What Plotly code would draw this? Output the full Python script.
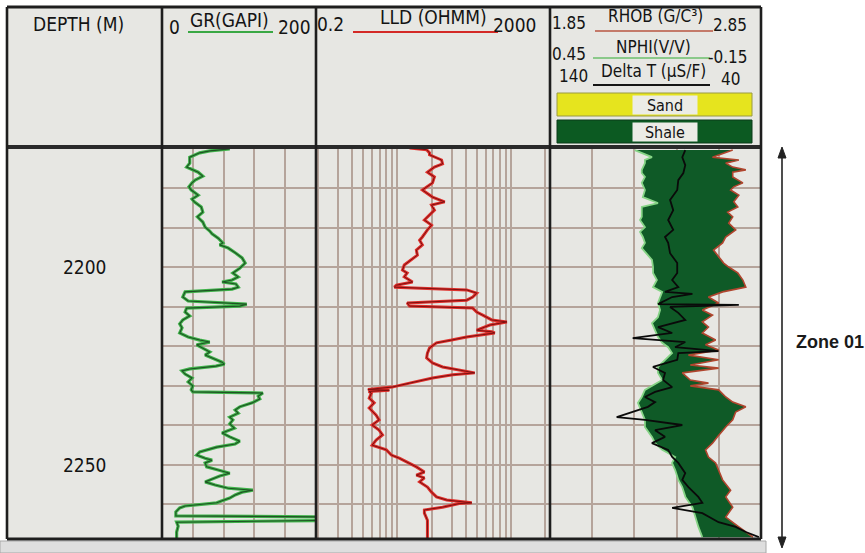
import math
import plotly.graph_objects as go

gr_depth = [2170.1, 2170.6, 2171.1, 2172.2, 2173.7, 2174.7, 2176.0, 2177.0, 2178.0, 2178.7,
            2179.7, 2180.5, 2181.8, 2182.8, 2183.5, 2184.8, 2186.1, 2187.3, 2188.6, 2189.9,
            2190.9, 2191.6, 2192.7, 2193.9, 2194.4, 2195.2, 2196.5, 2197.7, 2199.0, 2200.3,
            2201.5, 2202.5, 2203.3, 2203.8, 2204.3, 2205.1, 2205.6, 2206.3, 2207.6, 2208.6,
            2209.4, 2209.9, 2210.4, 2211.4, 2212.4, 2213.4, 2214.4, 2215.4, 2216.7, 2217.7,
            2218.5, 2219.0, 2219.7, 2220.5, 2221.5, 2222.3, 2223.0, 2224.1, 2224.6, 2225.1,
            2225.8, 2226.3, 2227.1, 2228.1, 2229.1, 2230.1, 2231.1, 2231.6, 2231.9, 2232.7,
            2233.4, 2234.4, 2235.4, 2236.2, 2237.0, 2238.0, 2238.7, 2239.7, 2240.8, 2242.0,
            2243.0, 2244.1, 2244.8, 2245.6, 2246.8, 2247.6, 2248.4, 2248.9, 2249.6, 2250.6,
            2251.4, 2252.2, 2252.9, 2253.4, 2254.4, 2255.2, 2256.0, 2256.5, 2257.0, 2257.7,
            2258.5, 2259.2, 2259.7, 2260.5, 2261.0, 2262.0, 2263.0, 2263.3, 2264.1, 2264.6,
            2265.6, 2267.1, 2268.9]
gr_api = [88, 62, 49, 36, 36, 32, 47, 53, 43, 39,
          35, 38, 47, 39, 42, 51, 53, 46, 53, 56,
          62, 65, 73, 79, 75, 86, 96, 104, 108, 101,
          92, 99, 91, 78, 96, 99, 91, 30, 27, 34,
          110, 101, 32, 30, 36, 27, 23, 26, 23, 34,
          49, 62, 45, 53, 62, 56, 65, 78, 81, 70,
          36, 26, 30, 39, 34, 40, 38, 40, 131, 125,
          127, 117, 101, 95, 99, 88, 92, 88, 94, 78,
          88, 101, 95, 71, 49, 45, 56, 65, 56, 58,
          73, 88, 75, 69, 56, 69, 86, 118, 104, 95,
          88, 78, 71, 30, 23, 18, 18, 240, 240, 19,
          21, 19, 19]

lld_depth = [2169.9, 2170.3, 2171.1, 2171.6, 2172.9, 2173.9, 2174.7, 2176.0, 2177.2, 2178.7,
             2180.5, 2181.3, 2182.3, 2183.5, 2184.3, 2185.6, 2187.3, 2188.1, 2189.4, 2190.6,
             2192.4, 2193.2, 2194.4, 2195.7, 2197.0, 2198.2, 2199.5, 2200.8, 2201.5, 2202.5,
             2203.8, 2204.6, 2205.1, 2205.8, 2206.6, 2207.6, 2208.4, 2209.1, 2209.9, 2210.4,
             2211.4, 2212.2, 2213.4, 2213.9, 2214.7, 2216.0, 2216.4, 2216.7, 2217.7, 2218.5,
             2219.2, 2220.5, 2221.8, 2223.0, 2224.3, 2225.3, 2226.1, 2226.8, 2227.3, 2228.1,
             2229.4, 2230.4, 2231.0, 2231.2, 2231.5, 2231.9, 2233.2, 2234.4, 2235.7, 2237.5,
             2238.7, 2240.0, 2241.3, 2242.5, 2243.8, 2245.1, 2246.3, 2247.6, 2248.4, 2249.6,
             2250.6, 2251.9, 2252.7, 2253.4, 2254.4, 2255.7, 2257.0, 2258.2, 2259.0, 2259.7,
             2259.9, 2260.8, 2261.5, 2262.3, 2264.1, 2268.9]
lld_ohmm = [12.8, 18.1, 19.2, 19.2, 24.5, 25.0, 21.2, 18.4, 21.2, 20.4,
            16.6, 18.1, 20.4, 26.1, 20.0, 21.2, 18.4, 17.3, 20.0, 18.4,
            16.6, 15.7, 16.6, 14.7, 15.0, 13.3, 11.5, 11.1, 12.2, 11.5,
            13.6, 9.8, 9.4, 40.8, 50.0, 46.1, 40.8, 12.2, 12.8, 46.1,
            50.0, 56.5, 67.9, 92.2, 65.2, 50.0, 67.9, 72.1, 40.8, 30.0,
            22.1, 19.2, 18.4, 18.1, 20.4, 25.0, 35.4, 48.0, 30.7, 20.4,
            12.8, 9.0, 5.5, 8.5, 5.6, 5.9, 5.65, 6.25, 5.65, 6.5,
            6.9, 6.0, 6.9, 7.4, 6.5, 6.0, 8.0, 8.85, 10.4, 12.8,
            14.7, 17.3, 14.7, 17.3, 15.7, 18.4, 20.0, 22.1, 27.2, 45.2,
            35.0, 25.0, 17.3, 17.3, 18.4, 18.4]

rhob_depth = [2170.4, 2172.2, 2172.9, 2173.7, 2174.7, 2175.4, 2176.0, 2177.2, 2178.7, 2179.7,
              2180.5, 2181.8, 2183.5, 2184.8, 2186.1, 2187.3, 2188.9, 2190.6, 2192.4, 2193.9,
              2195.7, 2197.5, 2199.0, 2200.0, 2201.5, 2203.3, 2205.1, 2206.3, 2207.6, 2209.1,
              2210.9, 2212.2, 2213.9, 2215.2, 2216.7, 2218.5, 2219.7, 2221.0, 2222.3, 2223.5,
              2224.8, 2225.6, 2226.8, 2228.6, 2229.4, 2230.1, 2231.1, 2232.9, 2234.2, 2235.4,
              2236.7, 2238.7, 2240.5, 2243.0, 2244.6, 2246.3, 2248.1, 2249.6, 2251.4, 2253.9,
              2256.5, 2258.2, 2260.8, 2263.3, 2265.8, 2268.4]
rhob_gcc = [2.716, 2.62, 2.745, 2.683, 2.716, 2.778, 2.716, 2.716, 2.764, 2.721,
            2.706, 2.745, 2.721, 2.74, 2.692, 2.716, 2.697, 2.73, 2.683, 2.668,
            2.625, 2.649, 2.673, 2.697, 2.74, 2.764, 2.778, 2.668, 2.601, 2.649,
            2.572, 2.62, 2.572, 2.601, 2.572, 2.635, 2.587, 2.649, 2.506, 2.649,
            2.515, 2.649, 2.477, 2.515, 2.601, 2.515, 2.649, 2.683, 2.716, 2.778,
            2.73, 2.716, 2.683, 2.644, 2.62, 2.587, 2.601, 2.635, 2.649, 2.668,
            2.706, 2.683, 2.716, 2.683, 2.745, 2.812]

nphi_depth = [2170.4, 2171.1, 2172.2, 2172.9, 2173.7, 2175.4, 2176.2, 2177.2, 2178.7, 2180.5,
              2182.3, 2183.8, 2184.8, 2187.3, 2188.1, 2189.9, 2191.1, 2192.4, 2193.9, 2195.2,
              2197.0, 2198.2, 2200.0, 2201.5, 2203.3, 2205.1, 2206.3, 2207.6, 2209.1, 2210.9,
              2212.7, 2214.2, 2216.0, 2217.7, 2219.2, 2220.3, 2221.8, 2223.5, 2225.3, 2226.8,
              2228.6, 2231.1, 2232.9, 2234.4, 2236.7, 2238.7, 2240.5, 2243.0, 2244.6, 2246.3,
              2248.1, 2249.6, 2251.4, 2253.9, 2255.7, 2258.2, 2260.8, 2263.3, 2265.8, 2268.4]
nphi_vv = [0.209, 0.189, 0.160, 0.180, 0.180, 0.189, 0.189, 0.180, 0.189, 0.180,
           0.186, 0.143, 0.189, 0.189, 0.194, 0.180, 0.194, 0.186, 0.180, 0.189,
           0.172, 0.160, 0.157, 0.157, 0.146, 0.157, 0.131, 0.137, 0.143, 0.137,
           0.143, 0.160, 0.151, 0.143, 0.131, 0.114, 0.103, 0.123, 0.143, 0.143,
           0.131, 0.180, 0.189, 0.200, 0.189, 0.180, 0.180, 0.160, 0.151, 0.131,
           0.094, 0.103, 0.094, 0.085, 0.074, 0.065, 0.045, 0.037, 0.028, 0.017]

dt_depth = [2170.4, 2172.2, 2174.2, 2176.2, 2178.0, 2180.5, 2183.0, 2185.6, 2188.1, 2190.6,
            2192.4, 2193.9, 2196.5, 2199.0, 2201.5, 2203.3, 2205.1, 2206.3, 2206.8, 2207.6,
            2209.4, 2209.6, 2210.1, 2211.6, 2213.4, 2215.2, 2216.7, 2218.0, 2219.0, 2220.3,
            2221.3, 2221.8, 2223.5, 2225.3, 2226.8, 2228.6, 2230.4, 2231.6, 2232.9, 2234.2,
            2235.4, 2238.0, 2238.7, 2240.0, 2241.3, 2243.0, 2244.6, 2246.3, 2248.1, 2249.6,
            2252.2, 2253.9, 2255.7, 2258.2, 2259.7, 2261.0, 2262.3, 2264.6, 2265.8, 2267.1,
            2268.4]
dt_us = [75.9, 77.3, 75.9, 76.8, 79.2, 79.7, 83.1, 81.6, 84.0, 81.6,
         85.5, 84.0, 83.1, 79.7, 79.7, 82.1, 79.2, 85.5, 72.5, 82.1,
         88.8, 50.5, 83.1, 79.2, 75.9, 88.8, 82.1, 100.8, 75.9, 80.7,
         60.1, 79.2, 79.7, 91.2, 85.5, 86.4, 82.1, 90.2, 95.0, 90.2,
         93.6, 108.4, 95.0, 77.3, 90.2, 85.5, 91.7, 84.0, 82.1, 79.2,
         75.9, 77.3, 74.4, 69.7, 67.8, 82.1, 67.8, 60.1, 52.0, 47.2,
         41.0]

# ---------------- track scales, grid and labels ----------------
grid_depths = [2180, 2190, 2200, 2210, 2220, 2230, 2240, 2250, 2260]
depth_labels = [2200, 2250]
gr_grid = [40, 80, 120, 160]
lld_grid = [2, 3, 4, 5, 6, 7, 8, 9, 10, 20, 30, 40, 50, 60, 70, 80, 90, 100, 200]
rhob_grid = [2.05, 2.25, 2.45, 2.65]

DEPTH_TOP, DEPTH_BOTTOM = 2169.87, 2268.86
GR_RANGE = [0, 200]
LLD_RANGE = [1.92, 221.0]
RHOB_RANGE = [1.85, 2.85]
NPHI_RANGE = [0.45, -0.15]
DT_RANGE = [140, 40]

# ---------------- page geometry (pixels) ----------------
W, H = 865, 553


def px(x):
    return x / W


def py(y):
    return 1 - y / H


FRAME_L, FRAME_T = 7, 7
HEAD_B = 147
BODY_T, BODY_B = 148, 539
X_DEPTH, X_GR, X_LLD, X_CMB, X_END = 7, 162, 316, 550, 761

FONT = "Liberation Sans Narrow, Arial Narrow, DejaVu Sans Condensed, Liberation Sans, sans-serif"
TXT = "#141414"
BG = "#e7e7e3"
GRID = "#b5a49b"
FRAME = "#1e1e1e"

fig = go.Figure()

# shale shading between neutron (left) and density (right)
nphi_on_rhob = [RHOB_RANGE[0] + (NPHI_RANGE[0] - v) / (NPHI_RANGE[0] - NPHI_RANGE[1])
                * (RHOB_RANGE[1] - RHOB_RANGE[0]) for v in nphi_vv]
fig.add_trace(go.Scatter(
    x=rhob_gcc + nphi_on_rhob[::-1], y=rhob_depth + nphi_depth[::-1],
    fill="toself", fillcolor="#0f5a27", mode="none", xaxis="x4", yaxis="y4",
    hoverinfo="skip"))
fig.add_trace(go.Scatter(x=nphi_vv, y=nphi_depth, mode="lines", xaxis="x5", yaxis="y4",
                         line=dict(color="#86d486", width=1.8)))
fig.add_trace(go.Scatter(x=rhob_gcc, y=rhob_depth, mode="lines", xaxis="x4", yaxis="y4",
                         line=dict(color="#b0452e", width=1.6)))
fig.add_trace(go.Scatter(x=dt_us, y=dt_depth, mode="lines", xaxis="x6", yaxis="y4",
                         line=dict(color="#0a0a0a", width=1.8)))

# gamma ray
fig.add_trace(go.Scatter(x=gr_api, y=gr_depth, mode="lines", xaxis="x2", yaxis="y2",
                         line=dict(color="#3fb34a", width=3.2)))
fig.add_trace(go.Scatter(x=gr_api, y=gr_depth, mode="lines", xaxis="x2", yaxis="y2",
                         line=dict(color="#1f5224", width=1.1)))

# deep resistivity
fig.add_trace(go.Scatter(x=lld_ohmm, y=lld_depth, mode="lines", xaxis="x3", yaxis="y3",
                         line=dict(color="#e0302c", width=3.0)))
fig.add_trace(go.Scatter(x=lld_ohmm, y=lld_depth, mode="lines", xaxis="x3", yaxis="y3",
                         line=dict(color="#7c1010", width=1.0)))

body_dom = [py(BODY_B), py(BODY_T)]


def yax(grid):
    d = dict(domain=body_dom, range=[DEPTH_BOTTOM, DEPTH_TOP], showticklabels=False,
             ticks="", zeroline=False, showline=False, fixedrange=True)
    if grid:
        d.update(showgrid=True, tickvals=grid_depths, gridcolor=GRID, gridwidth=1.6)
    else:
        d.update(showgrid=False)
    return d


def xax(x0, x1, rng, vals, log=False):
    d = dict(domain=[px(x0), px(x1)], showticklabels=False, ticks="", zeroline=False,
             showline=False, fixedrange=True)
    if log:
        d.update(type="log", range=[math.log10(rng[0]), math.log10(rng[1])])
    else:
        d.update(range=rng)
    if vals:
        d.update(showgrid=True, tickvals=vals, gridcolor=GRID, gridwidth=1.6)
    else:
        d.update(showgrid=False)
    return d


layout_axes = dict(
    xaxis=dict(xax(X_DEPTH, X_GR, [0, 1], None), anchor="y"),
    yaxis=dict(yax(False), anchor="x"),
    xaxis2=dict(xax(X_GR, X_LLD, GR_RANGE, gr_grid), anchor="y2"),
    yaxis2=dict(yax(True), anchor="x2"),
    xaxis3=dict(xax(X_LLD, X_CMB, LLD_RANGE, lld_grid, log=True), anchor="y3"),
    yaxis3=dict(yax(True), anchor="x3"),
    xaxis4=dict(xax(X_CMB, X_END, RHOB_RANGE, rhob_grid), anchor="y4"),
    yaxis4=dict(yax(True), anchor="x4"),
    xaxis5=dict(overlaying="x4", anchor="y4", range=NPHI_RANGE, visible=False),
    xaxis6=dict(overlaying="x4", anchor="y4", range=DT_RANGE, visible=False),
)

shapes = []


def rect(x0, y0, x1, y1, fill, line=None, lw=0, layer="below"):
    shapes.append(dict(type="rect", xref="paper", yref="paper", x0=px(x0), x1=px(x1),
                       y0=py(y1), y1=py(y0), fillcolor=fill, layer=layer,
                       line=dict(color=line or fill, width=lw)))


def seg(x0, y0, x1, y1, color, width, layer="above"):
    shapes.append(dict(type="line", xref="paper", yref="paper", x0=px(x0), x1=px(x1),
                       y0=py(y0), y1=py(y1), layer=layer,
                       line=dict(color=color, width=width)))


# header panel and bottom strip
rect(FRAME_L, FRAME_T, X_END, HEAD_B, BG)
rect(0, 541, 766, 553, "#dedede", "#a8a8a8", 1)

# frame and track separators
seg(FRAME_L, FRAME_T, X_END, FRAME_T, FRAME, 3)
seg(FRAME_L, HEAD_B, X_END, HEAD_B, "#2a2a2a", 4)
seg(FRAME_L, BODY_B, X_END, BODY_B, FRAME, 3)
for xs in (FRAME_L, X_GR, X_LLD, X_CMB, X_END):
    seg(xs, FRAME_T, xs, BODY_B, FRAME, 2.6)

# curve keys in the header
seg(188, 32, 273, 32, "#3aa844", 2)
seg(353, 32, 498, 32, "#d42a26", 2)
seg(595, 31, 713, 31, "#c47a6a", 2)
seg(593, 58, 710, 58, "#6cbf6c", 1.6)
seg(593, 85, 710, 85, "#151515", 2)

# lithology legend boxes
rect(557, 93, 752, 116, "#e6e41e", "#9a9a40", 1, layer="above")
rect(557, 120, 752, 143, "#0c5a22", "#0a3a18", 1, layer="above")

# zone marker arrow
ZX = 782
seg(ZX, 154, ZX, 542, "#222222", 1.6)
for tip, base in ((147, 158), (548, 537)):
    shapes.append(dict(type="path", xref="paper", yref="paper", layer="above",
                       path=f"M {px(ZX)} {py(tip)} L {px(ZX - 4)} {py(base)} "
                            f"L {px(ZX + 4)} {py(base)} Z",
                       fillcolor="#222222", line=dict(color="#222222", width=1)))

annotations = []


def label(text, x, y, size=19, anchor="center", **kw):
    annotations.append(dict(text=text, x=px(x), y=py(y), xref="paper", yref="paper",
                            xanchor=anchor, yanchor="middle", showarrow=False,
                            font=dict(family=FONT, size=size, color=TXT), **kw))


label("DEPTH (M)", 78, 24)
label("0", 174, 27)
label("GR(GAPI)", 230, 20)
label("200", 294, 27)
label("0.2", 330, 24)
label("LLD (OHMM)", 433, 17)
label("2000", 515, 25)
label("1.85", 569, 23, size=17)
label("RHOB (G/C³)", 655, 16, size=17)
label("2.85", 730, 25, size=17)
label("0.45", 569, 54, size=17)
label("NPHI(V/V)", 653, 47, size=17)
label("-0.15", 728, 57, size=17)
label("140", 573, 76, size=17)
label("Delta T (µS/F)", 653, 71, size=17)
label("40", 730, 79, size=17)
label("Sand", 665, 105, size=16, bgcolor="#ecece6", width=62, height=16)
label("Shale", 665, 132, size=16, bgcolor="#ecece6", width=62, height=16)

for d in depth_labels:
    annotations.append(dict(text=str(d), x=0.5, y=d, xref="x", yref="y",
                            xanchor="center", yanchor="middle", showarrow=False,
                            font=dict(family=FONT, size=19, color=TXT)))

annotations.append(dict(text="<b>Zone 01</b>", x=px(794), y=py(342), xref="paper",
                        yref="paper", xanchor="left", yanchor="middle", showarrow=False,
                        font=dict(family="Liberation Sans, Arial, sans-serif", size=18,
                                  color="#1a1a1a")))

fig.update_layout(
    width=W, height=H, margin=dict(l=0, r=0, t=0, b=0),
    paper_bgcolor="white", plot_bgcolor=BG, showlegend=False, hovermode=False,
    shapes=shapes, annotations=annotations, **layout_axes)

fig.write_html("out.html", config={"displayModeBar": False})
